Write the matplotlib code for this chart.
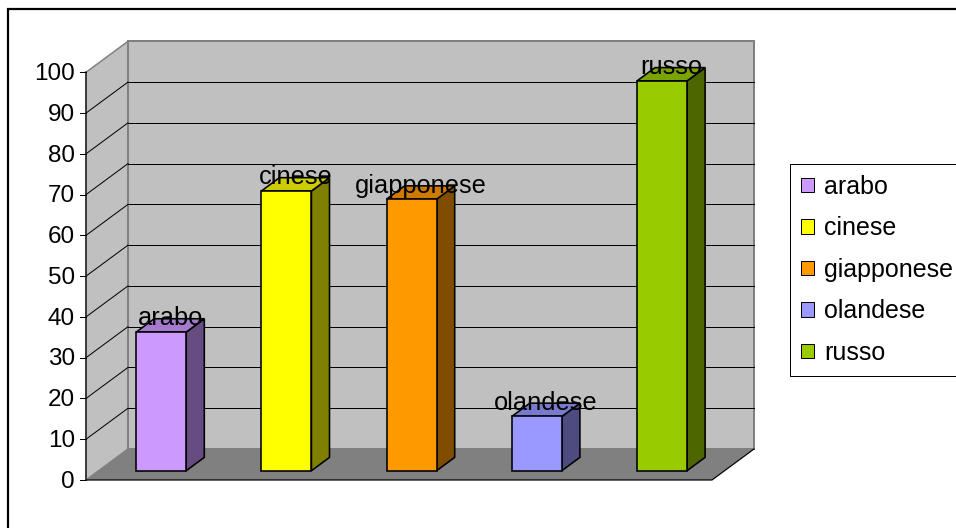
import matplotlib
matplotlib.use("Agg")
import matplotlib.pyplot as plt
from matplotlib.patches import Polygon, Rectangle, Patch

# ---- data -------------------------------------------------------------
languages = ["arabo", "cinese", "giapponese", "olandese", "russo"]
values = [34.0, 68.6, 66.6, 13.3, 95.6]
y_ticks = [0, 10, 20, 30, 40, 50, 60, 70, 80, 90, 100]

front_colors = ["#CC99FF", "#FFFF00", "#FF9900", "#9999FF", "#99CC00"]
side_colors = ["#664C80", "#808000", "#804C00", "#4C4C80", "#4C6600"]
top_colors = ["#A37ACC", "#CCCC00", "#CC7A00", "#7A7ACC", "#7AA300"]

# ---- figure / coordinate system ----------------------------------------
W, H = 956, 528
fig = plt.figure(figsize=(W / 100, H / 100), dpi=100)
ax = fig.add_axes([0, 0, 1, 1])

X0_PX, Y0_PX = 86, 480      # front-left corner of the floor (pixels)
CAT_PX = 125.2              # width of one category slot (pixels)
UNIT_PX = 4.077             # one value unit (pixels)
ax.set_xlim(-X0_PX / CAT_PX, (W - X0_PX) / CAT_PX)
ax.set_ylim(-(H - Y0_PX) / UNIT_PX, Y0_PX / UNIT_PX)
ax.axis("off")

# oblique depth offset of the chart box, in data units
DX = 42 / CAT_PX
DY = 31 / UNIT_PX
N = len(languages)
VMAX = y_ticks[-1]


def proj(c, v, d):
    return (c + d * DX, v + d * DY)


FONT = "Liberation Sans"
FS_TICK = 17.5
FS_LABEL = 18.3
FS_LEGEND = 18.0
PX = 0.72  # one pixel in points

# outer chart-area border (runs off the right and bottom edges)
fig.patches.append(Rectangle((8 / W, -0.1), 1.2, 1.1 - 9 / H,
                             transform=fig.transFigure, fill=False,
                             edgecolor="black", linewidth=2.2 * PX))

# ---- walls -------------------------------------------------------------
wall_grey = "#C0C0C0"
edge_grey = "#808080"
left_wall = [proj(0, 0, 0), proj(0, VMAX, 0), proj(0, VMAX, 1), proj(0, 0, 1)]
back_wall = [proj(0, 0, 1), proj(N, 0, 1), proj(N, VMAX, 1), proj(0, VMAX, 1)]
ax.add_patch(Polygon(left_wall, closed=True, facecolor=wall_grey,
                     edgecolor=edge_grey, linewidth=1.5 * PX, zorder=1))
ax.add_patch(Polygon(back_wall, closed=True, facecolor=wall_grey,
                     edgecolor=edge_grey, linewidth=2 * PX, zorder=1))

# gridlines on back wall and left wall
for v in y_ticks[1:-1]:
    a, b = proj(0, v, 1), proj(N, v, 1)
    ax.plot([a[0], b[0]], [a[1], b[1]], color="black", lw=1 * PX, zorder=2)
    a, b = proj(0, v, 0), proj(0, v, 1)
    ax.plot([a[0], b[0]], [a[1], b[1]], color="black", lw=1 * PX, zorder=2)

# floor
floor = [proj(0, 0, 0), proj(N, 0, 0), proj(N, 0, 1), proj(0, 0, 1)]
ax.add_patch(Polygon(floor, closed=True, facecolor="#808080",
                     edgecolor="none", zorder=2))
a, b, c = proj(0, 0, 0), proj(N, 0, 0), proj(N, 0, 1)
ax.plot([a[0], b[0], c[0]], [a[1], b[1], c[1]], color="black",
        lw=1.2 * PX, zorder=3)

# value axis line and ticks
a, b = proj(0, 0, 0), proj(0, VMAX, 0)
ax.plot([a[0], b[0]], [a[1], b[1]], color="#202020", lw=1.5 * PX, zorder=3)
for v in y_ticks:
    ax.plot([-0.048, 0], [v, v], color="black", lw=1 * PX, zorder=3)
    ax.text(-0.088, v - 1.9, str(v), ha="right", va="baseline",
            fontsize=FS_TICK, family=FONT, color="black")

# ---- bars --------------------------------------------------------------
D0, D1 = 0.30, 0.73   # depth span of the bars
BL, BR = 0.30, 0.70   # horizontal span inside each slot
bar_lw = 1.6 * PX
for i, (name, v) in enumerate(zip(languages, values)):
    x0, x1 = i + BL, i + BR
    front = [proj(x0, 0, D0), proj(x1, 0, D0), proj(x1, v, D0), proj(x0, v, D0)]
    side = [proj(x1, 0, D0), proj(x1, 0, D1), proj(x1, v, D1), proj(x1, v, D0)]
    top = [proj(x0, v, D0), proj(x1, v, D0), proj(x1, v, D1), proj(x0, v, D1)]
    ax.add_patch(Polygon(side, closed=True, facecolor=side_colors[i],
                         edgecolor="black", linewidth=bar_lw, zorder=4))
    ax.add_patch(Polygon(top, closed=True, facecolor=top_colors[i],
                         edgecolor="black", linewidth=bar_lw, zorder=4))
    ax.add_patch(Polygon(front, closed=True, facecolor=front_colors[i],
                         edgecolor="black", linewidth=bar_lw, zorder=5))
    lx, ly = proj(i + 0.5, v, (D0 + D1) / 2)
    ax.text(lx, ly, name, ha="center", va="baseline", fontsize=FS_LABEL,
            family=FONT, color="black", zorder=6)

# ---- legend ------------------------------------------------------------
handles = [Patch(facecolor=fc, edgecolor="black", linewidth=1 * PX)
           for fc in front_colors]
leg = ax.legend(handles, languages, loc="upper left",
                bbox_to_anchor=(790 / W, 1 - 164 / H),
                bbox_transform=fig.transFigure, borderaxespad=0,
                frameon=True, fancybox=False, shadow=False, framealpha=1,
                edgecolor="black", prop={"family": FONT, "size": FS_LEGEND},
                handlelength=0.52, handleheight=0.52, handletextpad=0.4,
                labelspacing=0.70, borderpad=0.43)
leg.get_frame().set_linewidth(1 * PX)

fig.savefig("out.png", dpi=100)
